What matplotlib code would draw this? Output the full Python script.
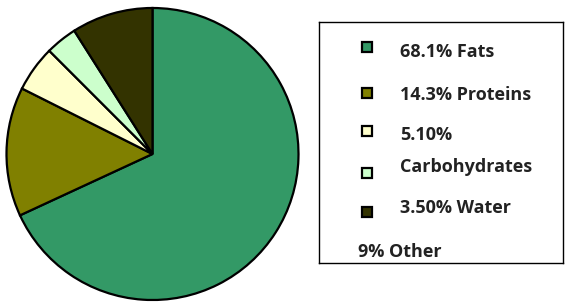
import matplotlib
matplotlib.use("Agg")
import matplotlib.pyplot as plt
from matplotlib.patches import Rectangle

# slice data (clockwise from the top)
shares = [68.1, 14.3, 5.1, 3.5, 9.0]
colors = ["#339966", "#808000", "#FFFFCC", "#CCFFCC", "#333300"]

# legend text as it appears in the original box
legend_labels = ["68.1% Fats", "14.3% Proteins", "5.10%", "Carbohydrates", "3.50% Water"]
legend_extra = "9% Other"

plt.rcParams["font.family"] = ["Open Sans", "DejaVu Sans"]

W, H = 567, 302
fig = plt.figure(figsize=(W / 100, H / 100), dpi=100)

# pie
ax = fig.add_axes([6.5 / W, 2 / H, 292 / W, 292 / H])
ax.pie(shares, colors=colors, startangle=90, counterclock=False,
       wedgeprops=dict(edgecolor="black", linewidth=1.6))
ax.set_xlim(-1, 1)
ax.set_ylim(-1, 1)
ax.set_aspect("equal")
ax.axis("off")

# legend box, drawn in pixel units
lx0, ly0, lw, lh = 319, 22, 244, 241
lax = fig.add_axes([lx0 / W, (H - ly0 - lh) / H, lw / W, lh / H])
lax.set_xlim(0, lw)
lax.set_ylim(lh, 0)
lax.set_xticks([])
lax.set_yticks([])
for s in lax.spines.values():
    s.set_linewidth(1.0)
    s.set_color("black")

marker_y = [24.5, 71, 108.5, 150.5, 190]
text_y = [35, 78, 118, 150, 191]
for c, lab, my, ty in zip(colors, legend_labels, marker_y, text_y):
    lax.add_patch(Rectangle((43, my - 5), 10, 10, facecolor=c,
                            edgecolor="black", linewidth=1.6))
    lax.text(81, ty, lab, fontsize=13, fontweight="bold",
             va="baseline", ha="left", color="#222222")
lax.text(39, 235, legend_extra, fontsize=13, fontweight="bold",
         va="baseline", ha="left", color="#222222")

fig.savefig("out.png", dpi=100)
